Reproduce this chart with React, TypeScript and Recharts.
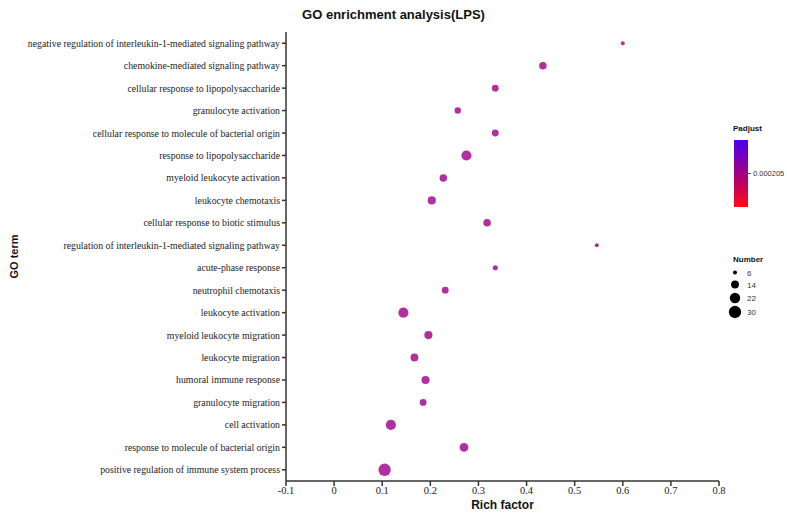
import React from 'react';
import { ScatterChart, Scatter, XAxis, YAxis, ZAxis, Label } from 'recharts';

const TERMS = [
  'negative regulation of interleukin-1-mediated signaling pathway',
  'chemokine-mediated signaling pathway',
  'cellular response to lipopolysaccharide',
  'granulocyte activation',
  'cellular response to molecule of bacterial origin',
  'response to lipopolysaccharide',
  'myeloid leukocyte activation',
  'leukocyte chemotaxis',
  'cellular response to biotic stimulus',
  'regulation of interleukin-1-mediated signaling pathway',
  'acute-phase response',
  'neutrophil chemotaxis',
  'leukocyte activation',
  'myeloid leukocyte migration',
  'leukocyte migration',
  'humoral immune response',
  'granulocyte migration',
  'cell activation',
  'response to molecule of bacterial origin',
  'positive regulation of immune system process',
];

const RICH_FACTOR = [
  0.6, 0.434, 0.335, 0.257, 0.335, 0.275, 0.227, 0.203, 0.318, 0.546,
  0.335, 0.231, 0.144, 0.196, 0.167, 0.19, 0.185, 0.118, 0.27, 0.105,
];

const COUNTS = [5, 13, 11, 10, 11, 22, 13, 15, 13, 5, 7, 11, 22, 15, 14, 15, 11, 22, 17, 32];

const X_TICKS = [-0.1, 0, 0.1, 0.2, 0.3, 0.4, 0.5, 0.6, 0.7, 0.8];
const SIZE_LEGEND = [6, 14, 22, 30];

const Z_DOMAIN = [6, 30];
const Z_RANGE = [12.6, 120];

const data = TERMS.map((term, i) => ({ term, rich: RICH_FACTOR[i], count: COUNTS[i] }));

const DOT = '#b0309f';
const AXIS = '#333';
const SERIF = 'Liberation Serif, serif';
const SANS = 'Liberation Sans, Arial, sans-serif';

const legendR = (n: number) => {
  const area = Z_RANGE[0] + ((n - Z_DOMAIN[0]) / (Z_DOMAIN[1] - Z_DOMAIN[0])) * (Z_RANGE[1] - Z_RANGE[0]);
  return Math.sqrt(area / Math.PI);
};

const TermTick = (props: any) => {
  const { x, y, payload } = props;
  return (
    <text x={x} y={y} dy={3.5} textAnchor="end" fill="#222" fontSize={9.8} fontFamily={SERIF}>
      {payload.value}
    </text>
  );
};

export default function App() {
  return (
    <div style={{ position: 'absolute', left: 0, top: 0, width: 787, height: 514, background: '#fff' }}>
      <div
        style={{
          position: 'absolute', left: 0, width: 787, top: 7, textAlign: 'center',
          fontFamily: SANS, fontWeight: 'bold', fontSize: 13, color: '#111',
        }}
      >
        GO enrichment analysis(LPS)
      </div>
      <ScatterChart width={787} height={514} margin={{ top: 32, right: 68, bottom: 8, left: 0 }}>
        <XAxis
          type="number"
          dataKey="rich"
          domain={[-0.1, 0.8]}
          ticks={X_TICKS}
          tickFormatter={(v: number) => String(Math.round(v * 10) / 10)}
          stroke={AXIS}
          strokeWidth={1.5}
          tickSize={5}
          tickMargin={1}
          height={25}
          tick={{ fill: '#222', fontSize: 10.5, fontFamily: SERIF }}
        >
          <Label
            value="Rich factor"
            position="insideBottom"
            offset={-3}
            style={{ fontFamily: SANS, fontWeight: 'bold', fontSize: 12, fill: '#111' }}
          />
        </XAxis>
        <YAxis
          type="category"
          dataKey="term"
          allowDuplicatedCategory={false}
          width={286}
          stroke={AXIS}
          strokeWidth={1.5}
          tickSize={4}
          interval={0}
          reversed
          tick={<TermTick />}
        >
          <Label
            value="GO term"
            angle={-90}
            position="insideLeft"
            offset={14}
            style={{ fontFamily: SANS, fontWeight: 'bold', fontSize: 11, fill: '#111', textAnchor: 'middle' }}
          />
        </YAxis>
        <ZAxis type="number" dataKey="count" domain={Z_DOMAIN} range={Z_RANGE} />
        <Scatter data={data} fill={DOT} isAnimationActive={false} />
      </ScatterChart>

      <svg style={{ position: 'absolute', left: 0, top: 0 }} width={787} height={514}>
        <defs>
          <linearGradient id="padj" x1="0" y1="0" x2="0" y2="1">
            <stop offset="0%" stopColor="#4a00f5" />
            <stop offset="50%" stopColor="#a00080" />
            <stop offset="100%" stopColor="#ff0a14" />
          </linearGradient>
        </defs>
        <g fontFamily={SANS} fill="#111">
          <text x={733} y={131} fontSize={8} fontWeight="bold">Padjust</text>
          <rect x={734} y={140} width={14} height={67} fill="url(#padj)" />
          <line x1={748} x2={751} y1={173.5} y2={173.5} stroke="#555" strokeWidth={1} />
          <text x={753} y={176} fontSize={7.5} fill="#333">0.000205</text>

          <text x={733} y={262} fontSize={8} fontWeight="bold">Number</text>
          {SIZE_LEGEND.map((n, i) => {
            const cy = [272.5, 284.5, 298, 312][i];
            return (
              <g key={n}>
                <circle cx={735} cy={cy} r={legendR(n)} fill="#000" />
                <text x={747} y={cy + 3} fontSize={8} fill="#333">{n}</text>
              </g>
            );
          })}
        </g>
      </svg>
    </div>
  );
}
